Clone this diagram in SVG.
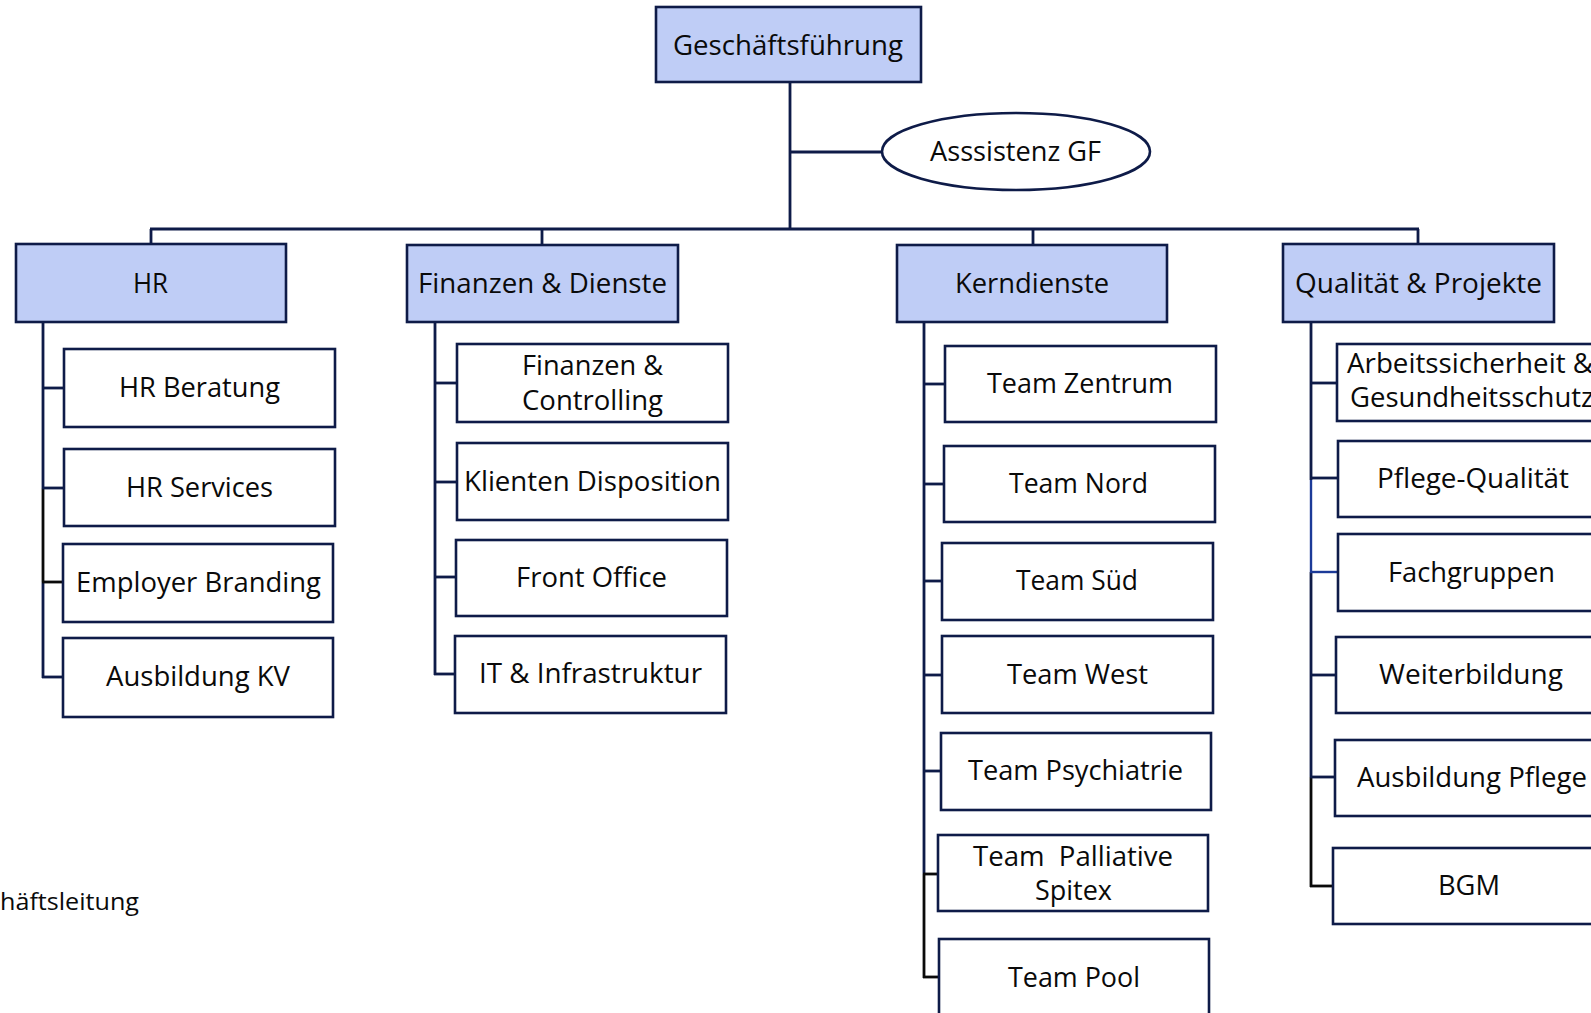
<svg xmlns="http://www.w3.org/2000/svg" width="1591" height="1013" viewBox="0 0 1591 1013">
<style>
.box{fill:#ffffff;stroke:#0e1b48;stroke-width:2.6}
.head{fill:#bfcdf6;stroke:#0e1b48;stroke-width:2.6}
.t{font-family:"Open Sans","Noto Sans","Liberation Sans",sans-serif;font-size:27px;fill:#0a0a0a;white-space:pre}
.ln{stroke:#0e1b48;stroke-width:2.8;fill:none}
.lk{stroke:#0a0a0a;stroke-width:2.8;fill:none}
.lb{stroke:#1c3a98;stroke-width:2.4;fill:none}
</style>
<rect width="1591" height="1013" fill="#ffffff"/>
<g id="connectors">
  <line class="ln" x1="790" y1="82" x2="790" y2="230"/>
  <line class="ln" x1="790" y1="152" x2="882" y2="152"/>
  <line class="ln" x1="150" y1="229" x2="1419" y2="229"/>
  <line class="ln" x1="151" y1="229" x2="151" y2="244"/>
  <line class="ln" x1="542" y1="229" x2="542" y2="245"/>
  <line class="ln" x1="1033" y1="229" x2="1033" y2="245"/>
  <line class="ln" x1="1418" y1="229" x2="1418" y2="244"/>
  <!-- HR -->
  <line class="ln" x1="43" y1="322" x2="43" y2="488"/>
  <line class="lk" x1="43" y1="488" x2="43" y2="582"/>
  <line class="ln" x1="43" y1="582" x2="43" y2="678"/>
  <line class="ln" x1="42" y1="388" x2="64" y2="388"/>
  <line class="ln" x1="42" y1="488" x2="64" y2="488"/>
  <line class="lk" x1="42" y1="582" x2="63" y2="582"/>
  <line class="ln" x1="42" y1="677" x2="63" y2="677"/>
  <!-- F&D -->
  <line class="ln" x1="435" y1="322" x2="435" y2="675"/>
  <line class="ln" x1="434" y1="383" x2="457" y2="383"/>
  <line class="ln" x1="434" y1="482" x2="457" y2="482"/>
  <line class="ln" x1="434" y1="577" x2="456" y2="577"/>
  <line class="ln" x1="434" y1="674" x2="455" y2="674"/>
  <!-- Kerndienste -->
  <line class="ln" x1="924" y1="322" x2="924" y2="874"/>
  <line class="lk" x1="924" y1="874" x2="924" y2="978"/>
  <line class="ln" x1="923" y1="384" x2="945" y2="384"/>
  <line class="ln" x1="923" y1="484" x2="944" y2="484"/>
  <line class="ln" x1="923" y1="581" x2="942" y2="581"/>
  <line class="ln" x1="923" y1="675" x2="942" y2="675"/>
  <line class="ln" x1="923" y1="771" x2="941" y2="771"/>
  <line class="lk" x1="923" y1="874" x2="938" y2="874"/>
  <line class="lk" x1="923" y1="977" x2="939" y2="977"/>
  <!-- Q&P -->
  <line class="ln" x1="1311" y1="322" x2="1311" y2="480"/>
  <line class="lb" x1="1311" y1="480" x2="1311" y2="572"/>
  <line class="ln" x1="1311" y1="572" x2="1311" y2="777"/>
  <line class="lk" x1="1311" y1="777" x2="1311" y2="887"/>
  <line class="ln" x1="1310" y1="383" x2="1337" y2="383"/>
  <line class="ln" x1="1310" y1="478" x2="1338" y2="478"/>
  <line class="lb" x1="1310" y1="572" x2="1338" y2="572"/>
  <line class="ln" x1="1310" y1="675" x2="1336" y2="675"/>
  <line class="ln" x1="1310" y1="777" x2="1335" y2="777"/>
  <line class="lk" x1="1310" y1="886" x2="1333" y2="886"/>
</g>
<g id="geschaeftsfuehrung">
  <rect class="head" x="656" y="7" width="265" height="75"/>
  <text class="t" x="673" y="55" textLength="230" lengthAdjust="spacingAndGlyphs">Geschäftsführung</text>
</g>
<g id="assistenz-gf">
  <ellipse class="box" cx="1016" cy="151.5" rx="134" ry="38.5"/>
  <text class="t" x="930" y="161" textLength="171" lengthAdjust="spacingAndGlyphs">Asssistenz GF</text>
</g>
<g id="hr">
  <rect class="head" x="16" y="244" width="270" height="78"/>
  <text class="t" x="133" y="293" textLength="35" lengthAdjust="spacingAndGlyphs">HR</text>
</g>
<g id="hr-beratung">
  <rect class="box" x="64" y="349" width="271" height="78"/>
  <text class="t" x="119" y="397" textLength="161" lengthAdjust="spacingAndGlyphs">HR Beratung</text>
</g>
<g id="hr-services">
  <rect class="box" x="64" y="449" width="271" height="77"/>
  <text class="t" x="126" y="497" textLength="147" lengthAdjust="spacingAndGlyphs">HR Services</text>
</g>
<g id="employer-branding">
  <rect class="box" x="63" y="544" width="270" height="78"/>
  <text class="t" x="76" y="592" textLength="245" lengthAdjust="spacingAndGlyphs">Employer Branding</text>
</g>
<g id="ausbildung-kv">
  <rect class="box" x="63" y="638" width="270" height="79"/>
  <text class="t" x="106" y="686" textLength="184" lengthAdjust="spacingAndGlyphs">Ausbildung KV</text>
</g>
<g id="finanzen-dienste">
  <rect class="head" x="407" y="245" width="271" height="77"/>
  <text class="t" x="418" y="293" textLength="249" lengthAdjust="spacingAndGlyphs">Finanzen &amp; Dienste</text>
</g>
<g id="finanzen-controlling">
  <rect class="box" x="457" y="344" width="271" height="78"/>
  <text class="t" x="522" y="375" textLength="141" lengthAdjust="spacingAndGlyphs">Finanzen &amp;</text>
  <text class="t" x="522" y="410" textLength="141" lengthAdjust="spacingAndGlyphs">Controlling</text>
</g>
<g id="klienten-disposition">
  <rect class="box" x="457" y="443" width="271" height="77"/>
  <text class="t" x="464" y="491" textLength="257" lengthAdjust="spacingAndGlyphs">Klienten Disposition</text>
</g>
<g id="front-office">
  <rect class="box" x="456" y="540" width="271" height="76"/>
  <text class="t" x="516" y="587" textLength="151" lengthAdjust="spacingAndGlyphs">Front Office</text>
</g>
<g id="it-infrastruktur">
  <rect class="box" x="455" y="636" width="271" height="77"/>
  <text class="t" x="479" y="683" textLength="223" lengthAdjust="spacingAndGlyphs">IT &amp; Infrastruktur</text>
</g>
<g id="kerndienste">
  <rect class="head" x="897" y="245" width="270" height="77"/>
  <text class="t" x="955" y="293" textLength="154" lengthAdjust="spacingAndGlyphs">Kerndienste</text>
</g>
<g id="team-zentrum">
  <rect class="box" x="945" y="346" width="271" height="76"/>
  <text class="t" x="987" y="393" textLength="186" lengthAdjust="spacingAndGlyphs">Team Zentrum</text>
</g>
<g id="team-nord">
  <rect class="box" x="944" y="446" width="271" height="76"/>
  <text class="t" x="1009" y="493" textLength="139" lengthAdjust="spacingAndGlyphs">Team Nord</text>
</g>
<g id="team-sued">
  <rect class="box" x="942" y="543" width="271" height="77"/>
  <text class="t" x="1016" y="590" textLength="122" lengthAdjust="spacingAndGlyphs">Team Süd</text>
</g>
<g id="team-west">
  <rect class="box" x="942" y="636" width="271" height="77"/>
  <text class="t" x="1007" y="684" textLength="141" lengthAdjust="spacingAndGlyphs">Team West</text>
</g>
<g id="team-psychiatrie">
  <rect class="box" x="941" y="733" width="270" height="77"/>
  <text class="t" x="968" y="780" textLength="215" lengthAdjust="spacingAndGlyphs">Team Psychiatrie</text>
</g>
<g id="team-palliative-spitex">
  <rect class="box" x="938" y="835" width="270" height="76"/>
  <text class="t" x="973" y="866" textLength="200" lengthAdjust="spacingAndGlyphs">Team  Palliative</text>
  <text class="t" x="1035" y="900" textLength="77" lengthAdjust="spacingAndGlyphs">Spitex</text>
</g>
<g id="team-pool">
  <rect class="box" x="939" y="939" width="270" height="80"/>
  <text class="t" x="1008" y="987" textLength="132" lengthAdjust="spacingAndGlyphs">Team Pool</text>
</g>
<g id="qualitaet-projekte">
  <rect class="head" x="1283" y="244" width="271" height="78"/>
  <text class="t" x="1295" y="293" textLength="247" lengthAdjust="spacingAndGlyphs">Qualität &amp; Projekte</text>
</g>
<g id="arbeitssicherheit">
  <rect class="box" x="1337" y="344" width="271" height="77"/>
  <text class="t" x="1347" y="373" textLength="246" lengthAdjust="spacingAndGlyphs">Arbeitssicherheit &amp;</text>
  <text class="t" x="1350" y="407" textLength="244" lengthAdjust="spacingAndGlyphs">Gesundheitsschutz</text>
</g>
<g id="pflege-qualitaet">
  <rect class="box" x="1338" y="441" width="271" height="76"/>
  <text class="t" x="1377" y="488" textLength="192" lengthAdjust="spacingAndGlyphs">Pflege-Qualität</text>
</g>
<g id="fachgruppen">
  <rect class="box" x="1338" y="534" width="271" height="77"/>
  <text class="t" x="1388" y="582" textLength="167" lengthAdjust="spacingAndGlyphs">Fachgruppen</text>
</g>
<g id="weiterbildung">
  <rect class="box" x="1336" y="637" width="271" height="76"/>
  <text class="t" x="1379" y="684" textLength="184" lengthAdjust="spacingAndGlyphs">Weiterbildung</text>
</g>
<g id="ausbildung-pflege">
  <rect class="box" x="1335" y="740" width="271" height="76"/>
  <text class="t" x="1357" y="787" textLength="230" lengthAdjust="spacingAndGlyphs">Ausbildung Pflege</text>
</g>
<g id="bgm">
  <rect class="box" x="1333" y="848" width="271" height="76"/>
  <text class="t" x="1438" y="895" textLength="62" lengthAdjust="spacingAndGlyphs">BGM</text>
</g>
<g id="geschaeftsleitung-label">
  <text class="t" x="0" y="910" style="font-size:24px" textLength="139" lengthAdjust="spacingAndGlyphs">häftsleitung</text>
</g>
</svg>
